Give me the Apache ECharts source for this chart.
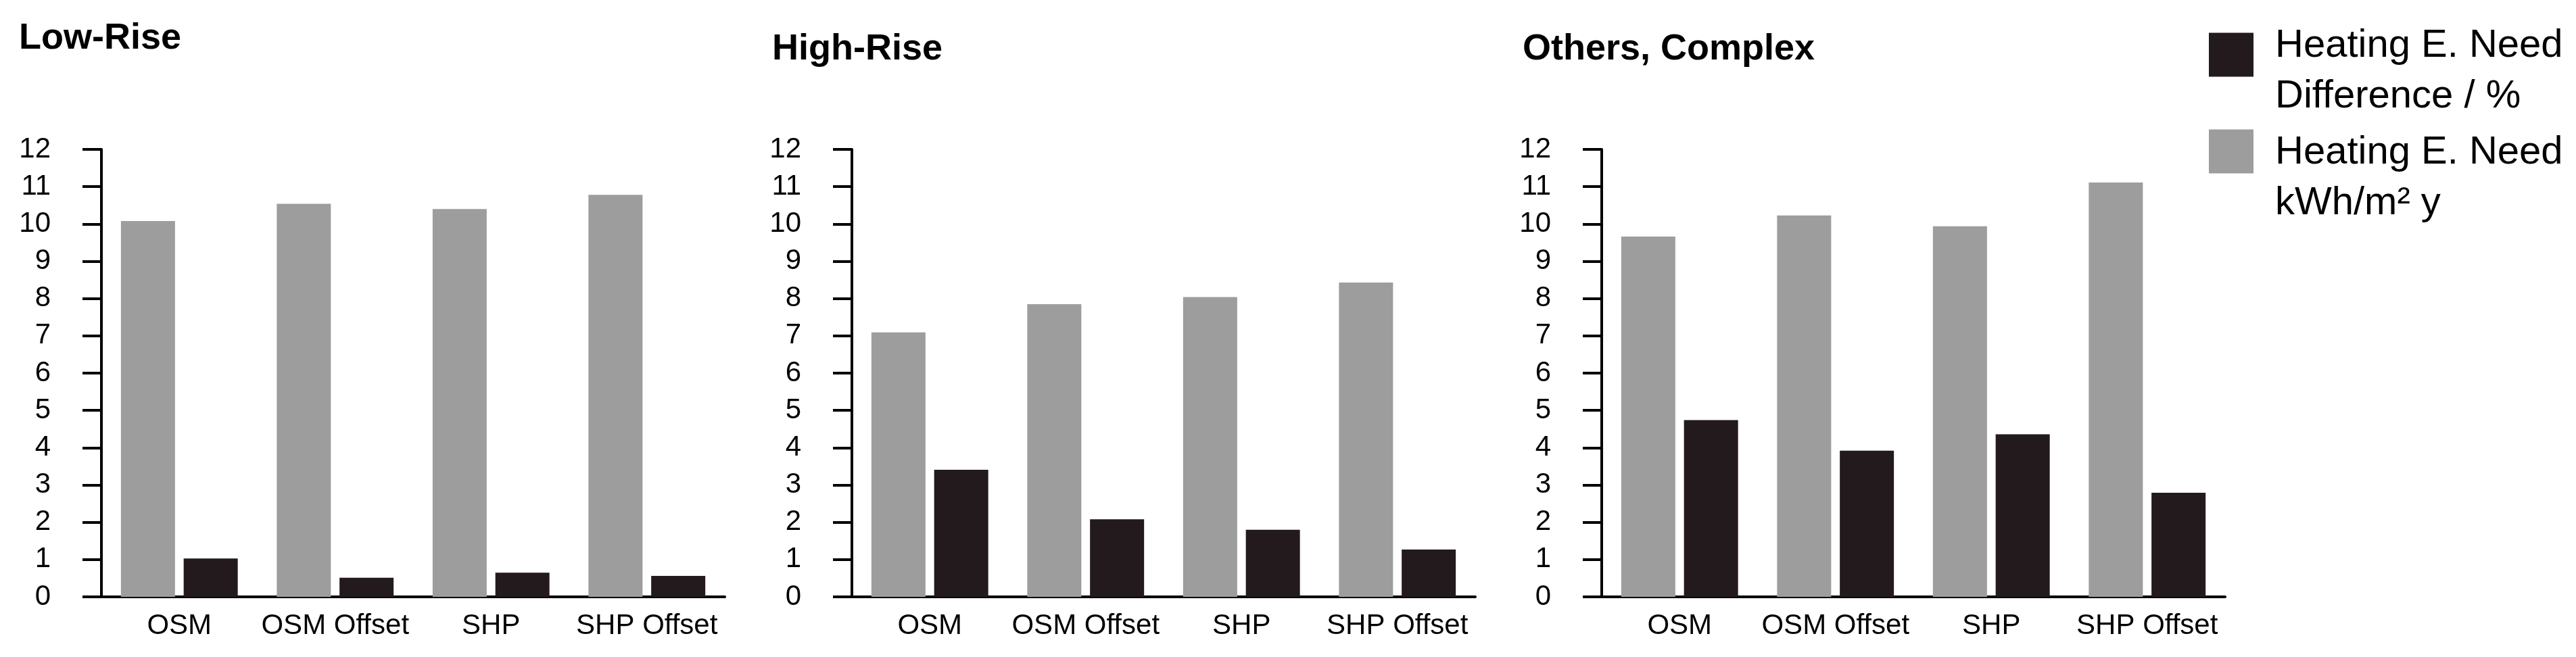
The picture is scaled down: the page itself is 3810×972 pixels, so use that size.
<!DOCTYPE html>
<html>
<head>
<meta charset="utf-8">
<script src="https://cdn.jsdelivr.net/npm/echarts@6/dist/echarts.min.js"></script>
<style>
html,body{margin:0;padding:0;background:#fff;}
#chart{width:3810px;height:972px;}
</style>
</head>
<body>
<div id="chart"></div>
<script>
// ---- data ----
const categories = ['OSM', 'OSM Offset', 'SHP', 'SHP Offset'];
const panelTitles = ['Low-Rise', 'High-Rise', 'Others, Complex'];
const yTicks = [0, 12, 1]; // min, max, interval
const needName = 'Heating E. Need\nkWh/m² y';
const diffName = 'Heating E. Need\nDifference / %';
const lowRiseNeed = [10.08, 10.54, 10.40, 10.78];
const lowRiseDiff = [1.03, 0.51, 0.65, 0.56];
const highRiseNeed = [7.09, 7.85, 8.04, 8.43];
const highRiseDiff = [3.41, 2.08, 1.80, 1.27];
const othersNeed = [9.66, 10.23, 9.94, 11.11];
const othersDiff = [4.74, 3.92, 4.36, 2.79];

const needs = [lowRiseNeed, highRiseNeed, othersNeed];
const diffs = [lowRiseDiff, highRiseDiff, othersDiff];

const FONT = '"Liberation Sans", Arial, sans-serif';
const GREY = '#9d9d9d';
const DARK = '#231a1e';
const gridLefts = [150, 1260, 2369];
const titleTops = [30, 46, 46];
const titleLefts = [28, 1142, 2252];

const chart = echarts.init(document.getElementById('chart'), null, {renderer: 'canvas'});

const grids = [], xAxes = [], yAxes = [], series = [], titles = [];
for (let i = 0; i < 3; i++) {
  grids.push({left: gridLefts[i], top: 221, width: 922, height: 662, containLabel: false});
  titles.push({
    text: panelTitles[i], left: titleLefts[i], top: titleTops[i], padding: 0,
    textStyle: {fontFamily: FONT, fontSize: 54, fontWeight: 'bold', color: '#000'}
  });
  xAxes.push({
    type: 'category', gridIndex: i, data: categories,
    axisLine: {lineStyle: {color: '#000', width: 4}},
    axisTick: {alignWithLabel: true, length: 22, lineStyle: {color: '#000', width: 3}},
    axisLabel: {fontFamily: FONT, fontSize: 42, color: '#000', margin: 22, interval: 0}
  });
  yAxes.push({
    type: 'value', gridIndex: i, min: yTicks[0], max: yTicks[1], interval: yTicks[2],
    axisLine: {show: true, lineStyle: {color: '#000', width: 4}},
    axisTick: {show: true, length: 28, lineStyle: {color: '#000', width: 4}},
    splitLine: {show: false},
    axisLabel: {fontFamily: FONT, fontSize: 42, color: '#000', margin: 75, padding: [0, 0, 24, 0], hideOverlap: false}
  });
  series.push({
    name: needName, type: 'bar', xAxisIndex: i, yAxisIndex: i, data: needs[i],
    barWidth: 80, barGap: '16%', itemStyle: {color: GREY}
  });
  series.push({
    name: diffName, type: 'bar', xAxisIndex: i, yAxisIndex: i, data: diffs[i],
    barWidth: 80, barGap: '16%', itemStyle: {color: DARK}
  });
}

const legendStyle = (spacer) => ({
  fontFamily: FONT, fontSize: 58, lineHeight: 75, color: '#000', padding: [0, 0, 0, 27],
  rich: {
    s: {fontSize: 10, lineHeight: spacer},
    t: {fontFamily: FONT, fontSize: 58, lineHeight: 75, color: '#000'}
  }
});
const legendFmt = (name) => '{s| }\n' + name.split('\n').map(l => '{t|' + l + '}').join('\n');

const option = {
  animation: false,
  backgroundColor: '#fff',
  title: titles,
  grid: grids,
  xAxis: xAxes,
  yAxis: yAxes,
  legend: [
    {data: [diffName], left: 3267, top: -18, orient: 'vertical', padding: 0,
     itemWidth: 66, itemHeight: 65, icon: 'rect', selectedMode: false,
     formatter: legendFmt, textStyle: legendStyle(48)},
    {data: [needName], left: 3267, top: 110, orient: 'vertical', padding: 0,
     itemWidth: 66, itemHeight: 65, icon: 'rect', selectedMode: false,
     formatter: legendFmt, textStyle: legendStyle(78)}
  ],
  series: series
};
chart.setOption(option);
</script>
</body>
</html>
